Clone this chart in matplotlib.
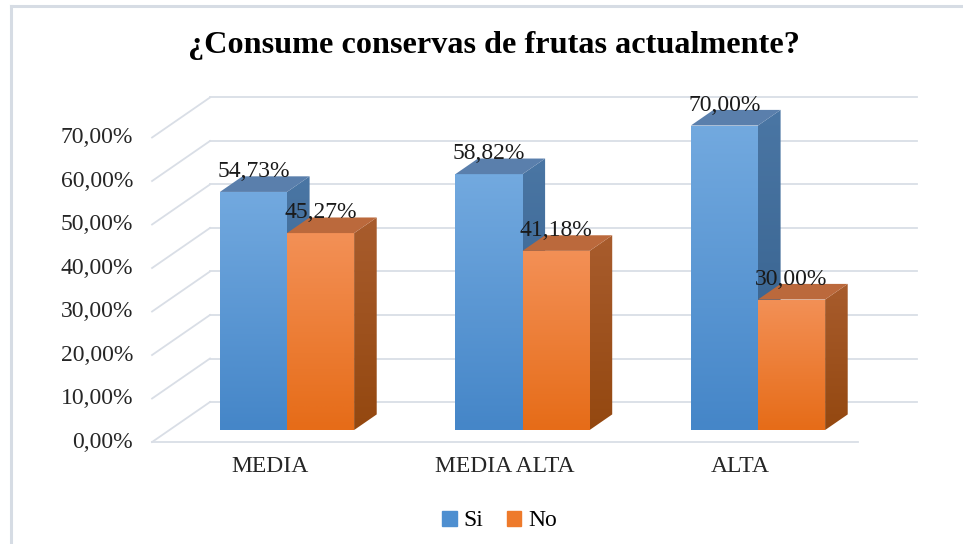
import matplotlib.pyplot as plt
import numpy as np
from matplotlib.patches import Polygon
from matplotlib.lines import Line2D
from matplotlib.colors import LinearSegmentedColormap

# datos del grafico
categorias = ['MEDIA', 'MEDIA ALTA', 'ALTA']
si = [54.73, 58.82, 70.00]
no = [45.27, 41.18, 30.00]
ticks = [0, 10, 20, 30, 40, 50, 60, 70]
titulo = '¿Consume conservas de frutas actualmente?'

# geometria de la vista 3D (en unidades de datos)
DX, DY = 0.246, 9.2        # profundidad total del piso
BW = 0.285                 # ancho de cada barra
TB = 0.39                  # profundidad de las barras
T_FRONT, T_BACK = -0.3, 0.7
XL = -0.573                # borde izquierdo del piso
XR_BACK = 2.675            # fin de la pared de fondo
XR_FRONT = 2.425

plt.rcParams['font.family'] = ['Liberation Serif', 'DejaVu Serif']

fig = plt.figure(figsize=(9.63, 5.44), dpi=100)
ax = fig.add_axes([0, 0, 1, 1])
ax.set_axis_off()

grid = '#D9DEE6'
# lineas de cuadricula: diagonal izquierda + linea del fondo
for v in ticks:
    y0 = v + T_FRONT * DY
    y1 = v + T_BACK * DY
    ax.plot([XL, XL + DX], [y0, y1], color=grid, lw=1.3, zorder=1)
    ax.plot([XL + DX, XR_BACK], [y1, y1], color=grid, lw=1.3, zorder=1)
    ax.text(XL - 0.08, y0, f'{v:.2f}%'.replace('.', ','), ha='right', va='center',
            fontsize=17, color='#262626')
ax.plot([XL, XR_FRONT], [T_FRONT * DY] * 2, color=grid, lw=1.3, zorder=1)


def cara(xs, ys, c_top, c_bot, z):
    poly = Polygon(list(zip(xs, ys)), closed=True, facecolor='none', edgecolor='none')
    ax.add_patch(poly)
    cmap = LinearSegmentedColormap.from_list('g', [c_bot, c_top])
    grad = np.linspace(0, 1, 64).reshape(-1, 1)
    im = ax.imshow(grad, extent=(min(xs), max(xs), min(ys), max(ys)), origin='lower',
                   cmap=cmap, aspect='auto', interpolation='bicubic', zorder=z)
    im.set_clip_path(poly)


def barra(x0, v, front, side, top, z):
    x1 = x0 + BW
    dx, dy = TB * DX, TB * DY
    cara([x0, x1, x1, x0], [0, 0, v, v], front[0], front[1], z)
    cara([x1, x1 + dx, x1 + dx, x1], [0, dy, v + dy, v], side[0], side[1], z)
    ax.add_patch(Polygon([(x0, v), (x1, v), (x1 + dx, v + dy), (x0 + dx, v + dy)],
                         closed=True, facecolor=top, edgecolor='none', zorder=z))


azul = (('#72A9DF', '#4586C8'), ('#4A76A4', '#335D89'), '#5A7FAC')
naranja = (('#F39056', '#E66C18'), ('#A85C2D', '#944810'), '#BB693C')

for i, (a, b) in enumerate(zip(si, no)):
    barra(i - BW, a, *azul, z=3 + i * 2)
    barra(i, b, *naranja, z=4 + i * 2)
    for x, v in ((i - BW / 2, a), (i + BW / 2, b)):
        ax.text(x, v + TB * DY - 0.2, f'{v:.2f}%'.replace('.', ','), ha='center',
                va='baseline', fontsize=17, color='#1a1a1a', zorder=20)
    ax.text(i + T_FRONT * DX, -8.3, categorias[i], ha='center', va='center',
            fontsize=17, color='#262626')

ax.set_xlim(-1.2187, 2.8705)
ax.set_ylim(-26.2, 98.85)

fig.text(0.513, 1 - 46 / 544, titulo, ha='center', va='center', fontsize=23.2,
         fontweight='bold', color='#000000')

handles = [plt.Rectangle((0, 0), 1, 1, color='#4E8FD0'),
           plt.Rectangle((0, 0), 1, 1, color='#EE7A2B')]
fig.legend(handles, ['Si', 'No'], loc='center', bbox_to_anchor=(0.519, 1 - 521 / 544),
           ncol=2, frameon=False, handlelength=0.6, handleheight=0.6,
           handletextpad=0.3, columnspacing=1.0,
           prop={'family': 'Liberation Serif', 'size': 17})

# marco del grafico (solo borde superior e izquierdo visibles)
borde = '#D6DCE4'
fig.add_artist(Line2D([11 / 963, 1], [1 - 6 / 544] * 2, color=borde, lw=2.2))
fig.add_artist(Line2D([11 / 963] * 2, [0, 1 - 6 / 544], color=borde, lw=2.2))

fig.savefig('out.png', dpi=100)
